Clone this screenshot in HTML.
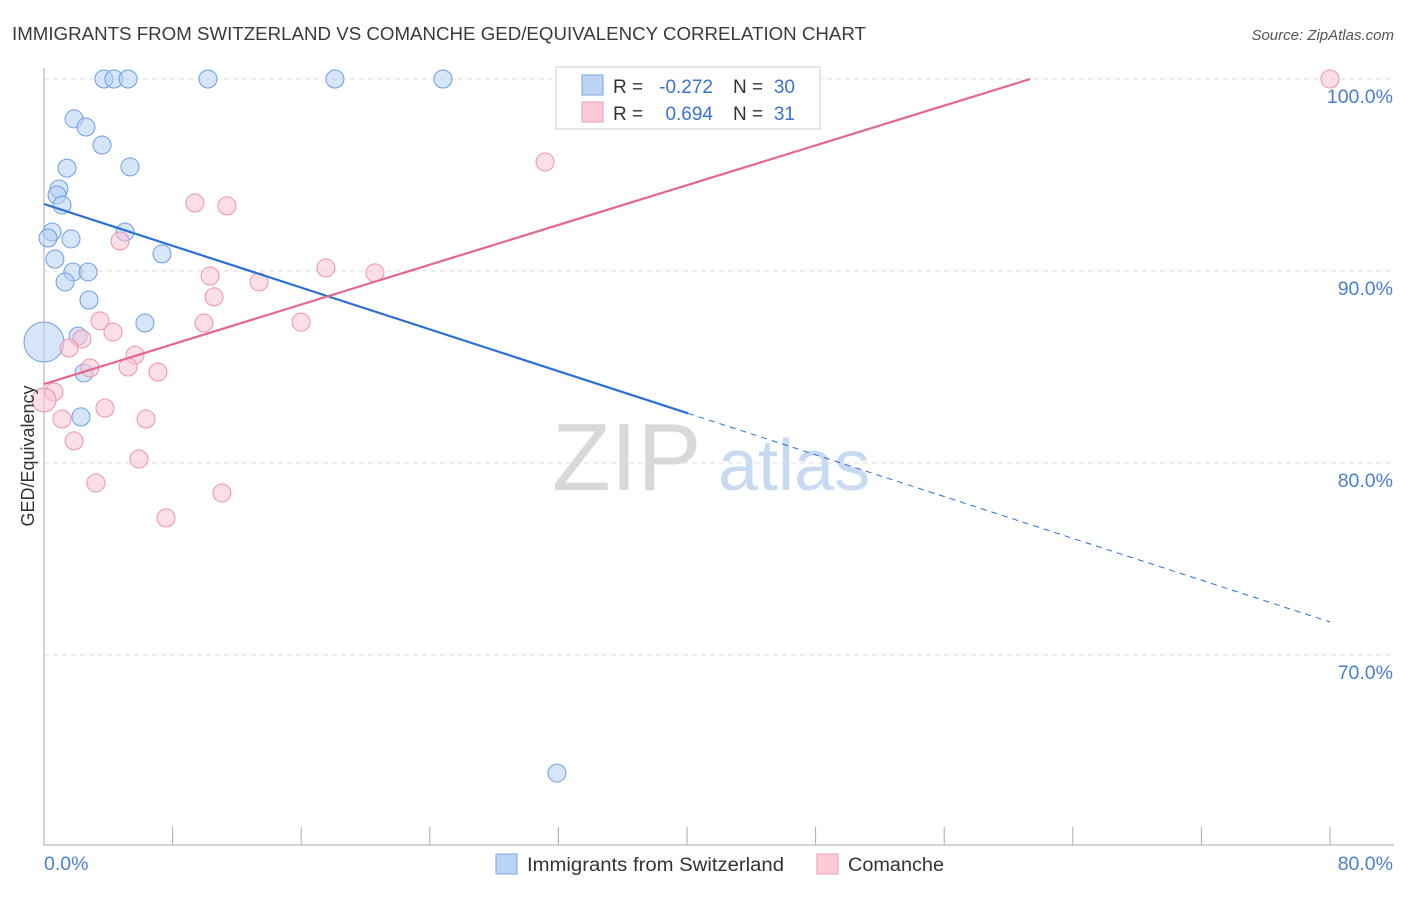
<!DOCTYPE html>
<html><head><meta charset="utf-8"><style>
body{margin:0;background:#fff;font-family:"Liberation Sans",sans-serif;}
svg text{font-family:"Liberation Sans",sans-serif;}
</style></head><body>
<svg id="chart" width="1406" height="892" xmlns="http://www.w3.org/2000/svg">
<text x="12" y="40" font-size="18" fill="#3a3a3a" textLength="854" lengthAdjust="spacingAndGlyphs">IMMIGRANTS FROM SWITZERLAND VS COMANCHE GED/EQUIVALENCY CORRELATION CHART</text>
<text x="1394" y="40" font-size="15" fill="#555" text-anchor="end" font-style="italic">Source: ZipAtlas.com</text>
<g>
<text x="552" y="490" font-size="96" fill="#d8d8d8" font-family="Liberation Serif,serif">ZIP</text>
<text x="718" y="490" font-size="72" fill="#c8daf2">atlas</text>
</g>
<g id="grid"></g>
<g id="axes"></g>
<g id="marks"></g>
<g>
<rect x="556" y="67" width="264" height="62" fill="#fff" stroke="#ccc"/>
<rect x="582" y="75" width="21" height="20" fill="#bcd4f4" stroke="#7aa6e6"/>
<rect x="582" y="102" width="21" height="20" fill="#fbcbd8" stroke="#ee9ab2"/>
<text x="613" y="93" font-size="19" fill="#333">R =</text>
<text x="713" y="93" font-size="19" fill="#3a72d0" text-anchor="end">-0.272</text>
<text x="733" y="93" font-size="19" fill="#333">N =</text>
<text x="795" y="93" font-size="19" fill="#3a72d0" text-anchor="end">30</text>
<text x="613" y="120" font-size="19" fill="#333">R =</text>
<text x="713" y="120" font-size="19" fill="#3a72d0" text-anchor="end">0.694</text>
<text x="733" y="120" font-size="19" fill="#333">N =</text>
<text x="795" y="120" font-size="19" fill="#3a72d0" text-anchor="end">31</text>
</g>
<g>
<rect x="496" y="854" width="21" height="20" fill="#bcd4f4" stroke="#7aa6e6"/>
<text x="527" y="871" font-size="19" fill="#333" textLength="257" lengthAdjust="spacingAndGlyphs">Immigrants from Switzerland</text>
<rect x="817" y="854" width="21" height="20" fill="#fbcbd8" stroke="#ee9ab2"/>
<text x="848" y="871" font-size="19" fill="#333" textLength="96" lengthAdjust="spacingAndGlyphs">Comanche</text>
</g>
<text transform="translate(34,456) rotate(-90)" font-size="18" fill="#333" text-anchor="middle">GED/Equivalency</text>
</svg>
<script>
const blueX=[3.73,4.35,5.23,10.20,18.10,24.82,1.87,2.61,3.61,1.43,5.35,0.93,0.81,1.12,0.50,0.25,1.68,5.04,0.68,7.34,1.80,2.74,1.31,2.80,6.28,2.12,2.49,2.30,31.91,0.0];
const blueY=[100,100,100,100,100,100,97.92,97.5,96.56,95.36,95.42,94.27,93.96,93.44,92.03,91.72,91.67,92.03,90.62,90.89,89.95,89.95,89.43,88.49,87.29,86.61,84.69,82.4,63.85,86.3];
const pinkX=[33.22,80,31.17,9.39,11.38,4.73,10.33,17.54,20.59,13.38,10.58,3.48,9.95,15.99,4.29,2.36,1.56,5.66,2.86,5.23,7.09,0.62,0,3.79,1.12,6.35,1.87,5.91,3.23,11.07,7.59];
const pinkY=[100,100,95.68,93.54,93.39,91.56,89.74,90.16,89.9,89.43,88.65,87.4,87.29,87.34,86.82,86.46,85.99,85.62,84.95,85.0,84.74,83.7,83.28,82.86,82.29,82.29,81.15,80.21,78.96,78.44,77.14];
const yTicks=[100,90,80,70];
const yTickLabels=["100.0%","90.0%","80.0%","70.0%"];
const xTicks=[0,8,16,24,32,40,48,56,64,72,80];
const blueTrend=[93.49,71.72];
const blueSolidEnd=40.06;
const pinkTrend=[84.11,104.83];
const NS='http://www.w3.org/2000/svg';
const sx=v=>44+v*1286/80;
const sy=v=>79+(100-v)*19.2;
function mk(tag,attrs,parent){const e=document.createElementNS(NS,tag);for(const k in attrs)e.setAttribute(k,attrs[k]);document.getElementById(parent).appendChild(e);return e;}
yTicks.forEach((t,i)=>{
 const l=mk('line',{x1:44,x2:1394,y1:sy(t),y2:sy(t),stroke:'#ddd','stroke-dasharray':'5,4'},'grid');
 
 
 const tx=mk('text',{x:1393,y:sy(t)+24,'font-size':19.5,fill:'#4a7fd0','text-anchor':'end'},'axes');
 tx.textContent=yTickLabels[i];
 
 
});
const ya=mk('line',{x1:44,x2:44,y1:68,y2:845,stroke:'#aaa'},'axes');


const xa=mk('line',{x1:44,x2:1394,y1:845,y2:845,stroke:'#aaa'},'axes');


xTicks.forEach(t=>{
 const l=mk('line',{x1:sx(t),x2:sx(t),y1:827,y2:845,stroke:'#aaa'},'axes');
 
 
});
const xl0=mk('text',{x:44,y:870,'font-size':19.5,fill:'#4a7fd0'},'axes');xl0.textContent='0.0%';


const xl1=mk('text',{x:1393,y:870,'font-size':19.5,fill:'#4a7fd0','text-anchor':'end'},'axes');xl1.textContent='80.0%';


function pts(xs,ys,fill,stroke,name){xs.forEach((x,i)=>{
 let r=9;
 if(x===0&&name==='blue-point')r=20;
 if(x===0&&name==='pink-point')r=12;
 const c=mk('circle',{cx:sx(x),cy:sy(ys[i]),r:r,fill:fill,'fill-opacity':0.55,stroke:stroke,'stroke-width':1},'marks');
 
 
});}
pts(blueX,blueY,'#b5cff3','#6b9ee6','blue-point');
pts(pinkX,pinkY,'#f9c3d2','#ec93ad','pink-point');
const bAt=x=>blueTrend[0]+(blueTrend[1]-blueTrend[0])*x/80;
const b1=mk('line',{x1:sx(0),y1:sy(bAt(0)),x2:sx(blueSolidEnd),y2:sy(bAt(blueSolidEnd)),stroke:'#2a6fd6','stroke-width':2.2},'marks');


const b2=mk('line',{x1:sx(blueSolidEnd),y1:sy(bAt(blueSolidEnd)),x2:sx(80),y2:sy(bAt(80)),stroke:'#2a6fd6','stroke-width':1,'stroke-dasharray':'6,5'},'marks');


const pAt=x=>pinkTrend[0]+(pinkTrend[1]-pinkTrend[0])*x/80;
const pEnd=Math.min(80,(100-pinkTrend[0])*80/(pinkTrend[1]-pinkTrend[0]));
const p1=mk('line',{x1:sx(0),y1:sy(pAt(0)),x2:sx(pEnd),y2:sy(pAt(pEnd)),stroke:'#e5668e','stroke-width':2.2},'marks');


</script>
</body></html>
